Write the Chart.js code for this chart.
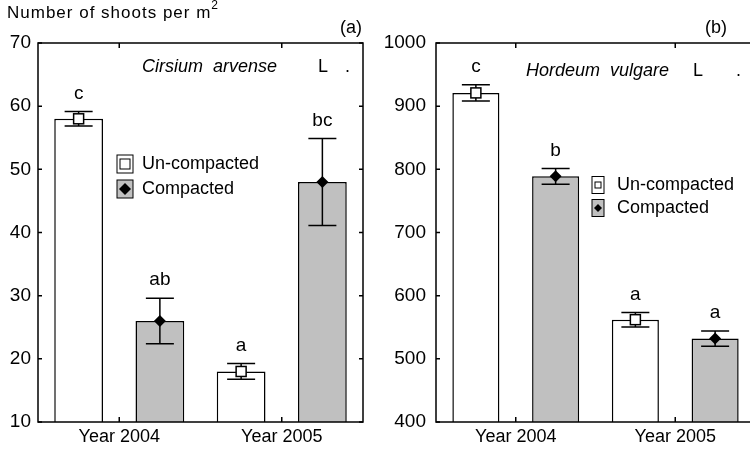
<!DOCTYPE html>
<html>
<head>
<meta charset="utf-8">
<script src="https://cdn.jsdelivr.net/npm/chart.js@4.4.1/dist/chart.umd.min.js"></script>
<style>
  html, body { margin: 0; padding: 0; background: #fff; overflow: hidden; }
  #wrap { position: relative; width: 750px; height: 449px; overflow: hidden; }
  canvas { position: absolute; top: 0; }
</style>
</head>
<body>
<div id="wrap">
  <canvas id="chartA" width="375" height="449" style="left:0"></canvas>
  <canvas id="chartB" width="385" height="449" style="left:375px"></canvas>
</div>
<script>
const years = ['Year 2004', 'Year 2005'];
const seriesNames = ['Un-compacted', 'Compacted'];

// (a) Cirsium arvense
const cirsiumUn = [58, 18];
const cirsiumUnErr = [1.15, 1.25];
const cirsiumUnLetters = ['c', 'a'];
const cirsiumCo = [26, 48];
const cirsiumCoErr = [3.6, 6.9];
const cirsiumCoLetters = ['ab', 'bc'];
const cirsiumTicks = [10, 20, 30, 40, 50, 60, 70];

// (b) Hordeum vulgare
const hordeumUn = [921, 562];
const hordeumUnErr = [13, 11.5];
const hordeumUnLetters = ['c', 'a'];
const hordeumCo = [789, 532];
const hordeumCoErr = [12.5, 12];
const hordeumCoLetters = ['b', 'a'];
const hordeumTicks = [400, 500, 600, 700, 800, 900, 1000];

const FONT = '"Liberation Sans", Arial, sans-serif';
const GREY = '#c0c0c0';

function drawSquare(ctx, x, y, s) {
  ctx.fillStyle = '#fff';
  ctx.fillRect(x - s / 2, y - s / 2, s, s);
  ctx.strokeRect(x - s / 2, y - s / 2, s, s);
}
function drawDiamond(ctx, x, y, s) {
  ctx.fillStyle = '#000';
  ctx.beginPath();
  ctx.moveTo(x, y - s / 2);
  ctx.lineTo(x + s / 2, y);
  ctx.lineTo(x, y + s / 2);
  ctx.lineTo(x - s / 2, y);
  ctx.closePath();
  ctx.fill();
}

const panelPlugin = {
  id: 'panel',
  afterDatasetsDraw(chart, args, opts) {
    const ctx = chart.ctx, ys = chart.scales.y;
    ctx.save();
    ctx.strokeStyle = '#000';
    ctx.lineWidth = 1.5;
    chart.data.datasets.forEach((ds, i) => {
      chart.getDatasetMeta(i).data.forEach((bar, j) => {
        const v = ds.data[j], e = opts.errors[i][j];
        const x = bar.x;
        const hi = ys.getPixelForValue(v + e);
        const lo = ys.getPixelForValue(v - e);
        const yv = ys.getPixelForValue(v);
        ctx.beginPath();
        ctx.moveTo(x, hi); ctx.lineTo(x, lo);
        ctx.moveTo(x - 14, hi); ctx.lineTo(x + 14, hi);
        ctx.moveTo(x - 14, lo); ctx.lineTo(x + 14, lo);
        ctx.stroke();
        if (i === 0) drawSquare(ctx, x, yv, 10);
        else drawDiamond(ctx, x, yv, 12);
        ctx.fillStyle = '#000';
        ctx.font = '19px ' + FONT;
        ctx.textAlign = 'center';
        ctx.textBaseline = 'middle';
        ctx.fillText(opts.letters[i][j], x, hi - 18);
      });
    });
    ctx.restore();
  },
  afterDraw(chart, args, opts) {
    const ctx = chart.ctx, a = chart.chartArea, ys = chart.scales.y, xs = chart.scales.x;
    ctx.save();
    ctx.strokeStyle = '#000';
    ctx.lineWidth = 1.5;
    ctx.strokeRect(a.left, a.top, a.right - a.left, a.bottom - a.top);
    ctx.beginPath();
    ys.ticks.forEach((t, k) => {
      const py = ys.getPixelForTick(k);
      ctx.moveTo(a.left, py); ctx.lineTo(a.left + 4, py);
      ctx.moveTo(a.right, py); ctx.lineTo(a.right - 4, py);
    });
    xs.ticks.forEach((t, k) => {
      const px = xs.getPixelForTick(k);
      ctx.moveTo(px, a.bottom); ctx.lineTo(px, a.bottom - 5);
      ctx.moveTo(px, a.top); ctx.lineTo(px, a.top + 5);
    });
    ctx.stroke();

    // legend
    const lg = opts.legend;
    ctx.lineWidth = 1;
    ctx.font = '18px ' + FONT;
    ctx.textAlign = 'left';
    ctx.textBaseline = 'middle';
    seriesNames.forEach((name, i) => {
      const cy = lg.rows[i];
      if (i === 0) {
        ctx.fillStyle = '#fff';
        ctx.fillRect(lg.x, cy - lg.h / 2, lg.w, lg.h);
        ctx.strokeRect(lg.x, cy - lg.h / 2, lg.w, lg.h);
        drawSquare(ctx, lg.x + lg.w / 2, cy, lg.w - 6);
      } else {
        ctx.fillStyle = GREY;
        ctx.fillRect(lg.x, cy - lg.h / 2, lg.w, lg.h);
        ctx.strokeRect(lg.x, cy - lg.h / 2, lg.w, lg.h);
        drawDiamond(ctx, lg.x + lg.w / 2, cy, lg.w - 4);
      }
      ctx.fillStyle = '#000';
      ctx.fillText(name, lg.textX, cy);
    });

    // species name
    const sp = opts.species;
    ctx.font = 'italic 18px ' + FONT;
    ctx.fillText(sp.name, sp.x, sp.y);
    ctx.font = '18px ' + FONT;
    ctx.fillText('L', sp.lx, sp.y);
    ctx.fillText('.', sp.dotx, sp.y);

    // panel tag
    ctx.fillText(opts.tag.text, opts.tag.x, opts.tag.y);

    // y-axis title
    if (opts.title) {
      ctx.font = '17px ' + FONT;
      if ('letterSpacing' in ctx) ctx.letterSpacing = '1px';
      ctx.fillText('Number of shoots per m', opts.title.x, opts.title.y);
      const w = ctx.measureText('Number of shoots per m').width;
      ctx.font = '12px ' + FONT;
      ctx.fillText('2', opts.title.x + w, opts.title.y - 7);
    }
    ctx.restore();
  }
};

function makeChart(id, un, co, errs, letters, ticks, yWidth, padRight, barPct, extra) {
  return new Chart(document.getElementById(id), {
    type: 'bar',
    data: {
      labels: years,
      datasets: [
        { label: seriesNames[0], data: un, backgroundColor: '#fff', borderColor: '#000', borderWidth: 1.5 },
        { label: seriesNames[1], data: co, backgroundColor: GREY, borderColor: '#000', borderWidth: 1.5 }
      ]
    },
    options: {
      responsive: false,
      animation: false,
      devicePixelRatio: 1,
      layout: { padding: { top: 43, right: padRight, left: 0, bottom: 0 } },
      datasets: { bar: { categoryPercentage: 1.0, barPercentage: barPct } },
      scales: {
        x: {
          grid: { display: false, drawTicks: false },
          border: { display: false },
          ticks: { color: '#000', font: { family: FONT, size: 18 }, padding: 4 },
          afterFit(s) { s.height = 27; }
        },
        y: {
          min: ticks[0],
          max: ticks[ticks.length - 1],
          grid: { display: false, drawTicks: false },
          border: { display: false },
          ticks: {
            stepSize: ticks[1] - ticks[0], color: '#000',
            font: { family: FONT, size: 19 }, padding: extra.tickPad,
            callback: v => String(v)
          },
          afterFit(s) { s.width = yWidth; }
        }
      },
      plugins: {
        legend: { display: false },
        tooltip: { enabled: false },
        panel: Object.assign({ errors: errs, letters: letters }, extra)
      }
    },
    plugins: [panelPlugin]
  });
}

makeChart('chartA', cirsiumUn, cirsiumCo, [cirsiumUnErr, cirsiumCoErr], [cirsiumUnLetters, cirsiumCoLetters],
  cirsiumTicks, 38, 12, 0.6, {
    tickPad: 7,
    legend: { x: 117, w: 16, h: 18, rows: [164, 189], textX: 142 },
    species: { name: 'Cirsium  arvense', x: 142, y: 67, lx: 318, dotx: 345 },
    tag: { text: '(a)', x: 340, y: 28 },
    title: { x: 7, y: 13 }
  });

makeChart('chartB', hordeumUn, hordeumCo, [hordeumUnErr, hordeumCoErr], [hordeumUnLetters, hordeumCoLetters],
  hordeumTicks, 61, 5, 0.59, {
    tickPad: 10,
    legend: { x: 217, w: 12, h: 17, rows: [185, 208], textX: 242 },
    species: { name: 'Hordeum  vulgare', x: 151, y: 71, lx: 318, dotx: 361 },
    tag: { text: '(b)', x: 330, y: 28 },
    title: null
  });
</script>
</body>
</html>
